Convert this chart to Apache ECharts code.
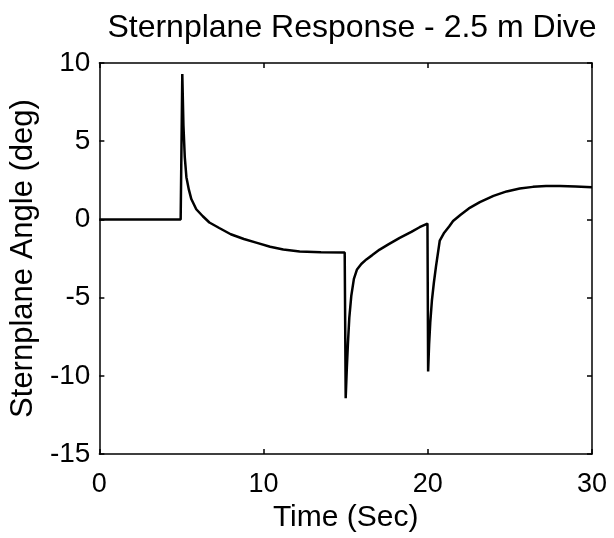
<!DOCTYPE html>
<html>
<head>
<meta charset="utf-8">
<script src="https://cdn.jsdelivr.net/npm/echarts@6/dist/echarts.min.js"></script>
<style>
html,body{margin:0;padding:0;background:#fff;}
#chart{width:614px;height:538px;}
</style>
</head>
<body>
<div id="chart"></div>
<script>
var titleText = 'Sternplane Response - 2.5 m Dive';
var xName = 'Time (Sec)';
var yName = 'Sternplane Angle (deg)';
var timeSec = [0, 4.95, 5.05, 5.12, 5.2, 5.3, 5.45, 5.6, 5.9, 6.3, 6.7, 7.3, 8.0, 8.8, 9.6, 10.4, 11.2, 12.2, 13.5, 14.94,
  15.0, 15.07, 15.14, 15.22, 15.34, 15.5, 15.69, 15.95, 16.26, 16.6, 17.07, 17.6, 18.29, 19.0, 19.5, 19.98,
  20.02, 20.08, 20.15, 20.25, 20.37, 20.5, 20.73, 21.0, 21.3, 21.54, 22.0, 22.5, 23.17, 24.0, 24.8, 25.6, 26.4, 27.2, 28.05, 29.0, 30];
var angleDeg = [0, 0, 9.3, 6.0, 4.0, 2.7, 1.9, 1.3, 0.65, 0.2, -0.2, -0.55, -0.95, -1.25, -1.5, -1.75, -1.92, -2.05, -2.1, -2.12,
  -11.43, -9.5, -7.86, -6.3, -4.9, -3.8, -3.2, -2.85, -2.56, -2.3, -1.93, -1.6, -1.18, -0.8, -0.5, -0.27,
  -9.73, -8.0, -6.6, -5.2, -4.05, -3.0, -1.35, -0.85, -0.45, -0.1, 0.3, 0.7, 1.1, 1.5, 1.79, 1.97, 2.08, 2.13, 2.14, 2.1, 2.05];

var data = timeSec.map(function (t, i) { return [t, angleDeg[i]]; });
var font = 'Liberation Sans, Arial, Helvetica, sans-serif';
var axisLineStyle = { color: '#000', width: 1.5 };

var chart = echarts.init(document.getElementById('chart'), null, { renderer: 'canvas' });
chart.setOption({
  animation: false,
  backgroundColor: '#fff',
  title: {
    text: titleText,
    left: 347, top: 7, textAlign: 'center',
    textStyle: { fontFamily: font, fontSize: 32, fontWeight: 'normal', color: '#000' }
  },
  grid: { left: 99, right: 22, top: 63, bottom: 84 },
  xAxis: [{
    type: 'value', min: 0, max: 30, interval: 10,
    name: xName, nameLocation: 'middle', nameGap: 46,
    nameTextStyle: { fontFamily: font, fontSize: 30, color: '#000' },
    axisLine: { show: true, onZero: false, lineStyle: axisLineStyle },
    axisTick: { show: true, inside: true, length: 5, lineStyle: axisLineStyle },
    axisLabel: { fontFamily: font, fontSize: 27, color: '#000', margin: 17 },
    splitLine: { show: false }
  }, {
    type: 'value', min: 0, max: 30, interval: 10, position: 'top',
    axisLine: { show: true, onZero: false, lineStyle: axisLineStyle },
    axisTick: { show: true, inside: true, length: 5, lineStyle: axisLineStyle },
    axisLabel: { show: false }, splitLine: { show: false }
  }],
  yAxis: [{
    type: 'value', min: -15, max: 10, interval: 5,
    name: yName, nameLocation: 'middle', nameGap: 55,
    nameTextStyle: { fontFamily: font, fontSize: 31, color: '#000' },
    axisLine: { show: true, onZero: false, lineStyle: axisLineStyle },
    axisTick: { show: true, inside: true, length: 5, lineStyle: axisLineStyle },
    axisLabel: { fontFamily: font, fontSize: 28, color: '#000', margin: 9, padding: [6, 0, 0, 0] },
    splitLine: { show: false }
  }, {
    type: 'value', min: -15, max: 10, interval: 5, position: 'right',
    axisLine: { show: true, onZero: false, lineStyle: axisLineStyle },
    axisTick: { show: true, inside: true, length: 5, lineStyle: axisLineStyle },
    axisLabel: { show: false }, splitLine: { show: false }
  }],
  series: [{
    type: 'line', xAxisIndex: 0, yAxisIndex: 0,
    data: data, showSymbol: false, smooth: false,
    lineStyle: { color: '#000', width: 2.5 }
  }]
});
</script>
</body>
</html>
